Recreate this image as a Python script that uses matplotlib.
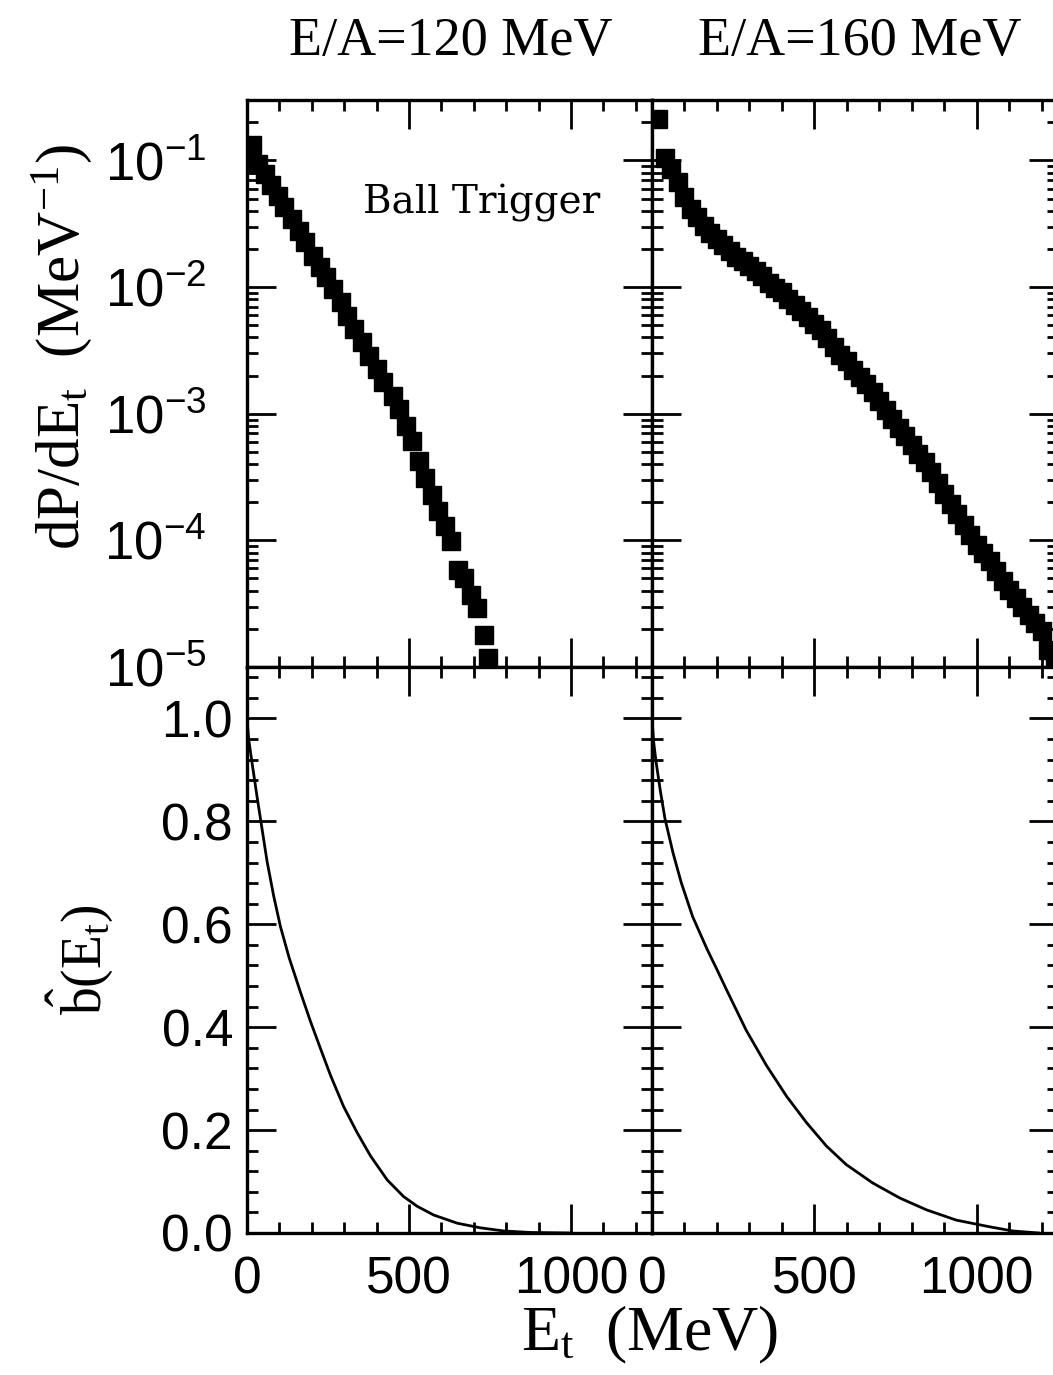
import numpy as np
import matplotlib
matplotlib.use('Agg')
import matplotlib.pyplot as plt
from matplotlib.ticker import MultipleLocator, LogLocator, FuncFormatter, NullFormatter

plt.rcParams['mathtext.fontset'] = 'custom'
plt.rcParams['mathtext.rm'] = 'Liberation Serif'
plt.rcParams['mathtext.sf'] = 'Liberation Sans'
plt.rcParams['mathtext.it'] = 'Liberation Serif:italic'

# dP/dEt, E/A = 120 MeV
et_120 = [15, 35, 55, 75, 95, 115, 140, 160, 180, 205, 225, 245, 265, 290, 310, 330,
          355, 375, 400, 420, 450, 470, 490, 510, 530, 550, 570, 590, 610, 630, 650,
          670, 690, 710, 730, 745]
dpde_120 = [0.1315, 0.0942, 0.0785, 0.0634, 0.0528, 0.0430, 0.0345, 0.0279, 0.0227,
            0.0177, 0.0144, 0.0120, 9.64e-3, 7.60e-3, 5.93e-3, 4.65e-3, 3.67e-3,
            2.86e-3, 2.24e-3, 1.77e-3, 1.38e-3, 1.09e-3, 8.0e-4, 6.08e-4, 4.22e-4,
            3.13e-4, 2.30e-4, 1.69e-4, 1.29e-4, 9.8e-5, 5.85e-5, 5.06e-5, 3.71e-5,
            2.92e-5, 1.79e-5, 1.17e-5]

# dP/dEt, E/A = 160 MeV
et_160 = [20, 40, 60, 80, 100, 120, 140, 160, 180, 200, 220, 240, 260, 280, 300, 320,
          340, 360, 380, 400, 420, 440, 460, 480, 500, 520, 540, 560, 580, 600, 620,
          640, 660, 680, 700, 720, 740, 760, 780, 800, 820, 840, 860, 880, 900, 920,
          940, 960, 980, 1000, 1020, 1040, 1060, 1080, 1100, 1120, 1140, 1160, 1180,
          1200, 1220, 1240]
dpde_160 = [0.214, 0.105, 0.0851, 0.0676, 0.0513, 0.0417, 0.0355, 0.0305, 0.0266,
            0.0240, 0.0216, 0.0193, 0.0174, 0.0160, 0.0146, 0.0133, 0.0123, 0.0108,
            9.89e-3, 9.12e-3, 8.04e-3, 7.16e-3, 6.53e-3, 5.79e-3, 5.13e-3, 4.57e-3,
            3.98e-3, 3.35e-3, 2.92e-3, 2.60e-3, 2.21e-3, 1.94e-3, 1.72e-3, 1.48e-3,
            1.26e-3, 1.07e-3, 9.12e-4, 7.76e-4, 6.68e-4, 5.62e-4, 4.79e-4, 4.12e-4,
            3.47e-4, 2.86e-4, 2.34e-4, 1.95e-4, 1.62e-4, 1.32e-4, 1.11e-4, 9.23e-5,
            7.94e-5, 6.92e-5, 5.69e-5, 4.79e-5, 4.07e-5, 3.51e-5, 2.95e-5, 2.57e-5,
            2.21e-5, 1.91e-5, 1.35e-5, 1.07e-5]

# reduced impact parameter b(Et)
bet_120 = [0, 5, 16, 31, 47, 62, 82, 103, 130, 165, 196, 227, 258, 298, 340, 381, 433,
           483, 525, 576, 649, 721, 792, 875, 1000]
bhat_120 = [1.0, 0.96, 0.912, 0.848, 0.783, 0.722, 0.656, 0.596, 0.535, 0.468, 0.411,
            0.358, 0.306, 0.246, 0.195, 0.150, 0.103, 0.071, 0.052, 0.035, 0.019,
            0.010, 0.004, 0.001, 0.0]
bet_160 = [0, 5, 12, 25, 40, 65, 90, 125, 170, 200, 230, 290, 352, 414, 475, 537, 598,
           680, 763, 845, 937, 1040, 1110, 1190]
bhat_160 = [1.0, 0.955, 0.918, 0.862, 0.805, 0.738, 0.681, 0.615, 0.551, 0.512, 0.472,
            0.394, 0.326, 0.266, 0.215, 0.169, 0.133, 0.097, 0.068, 0.045, 0.025, 0.012,
            0.004, 0.0]

W, H = 1053, 1375
fig = plt.figure(figsize=(W / 100, H / 100), dpi=100)


def box(x0, y0, x1, y1):
    return [x0 / W, 1 - y1 / H, (x1 - x0) / W, (y1 - y0) / H]


ax_tl = fig.add_axes(box(247, 100, 652, 667))
ax_tr = fig.add_axes(box(652, 100, 1058, 667))
ax_bl = fig.add_axes(box(247, 667, 652, 1233))
ax_br = fig.add_axes(box(652, 667, 1058, 1233))

tickfont = 'Liberation Sans'


def style(ax):
    for s in ax.spines.values():
        s.set_linewidth(2.4)
    ax.tick_params(which='both', direction='in', top=True, right=True, width=2.0)
    ax.tick_params(which='major', length=21)
    ax.tick_params(which='minor', length=8)
    ax.set_xlim(0, 1250)
    ax.xaxis.set_major_locator(MultipleLocator(500))
    ax.xaxis.set_minor_locator(MultipleLocator(100))


for ax in (ax_tl, ax_tr):
    style(ax)
    ax.set_yscale('log')
    ax.set_ylim(1e-5, 0.3)
    ax.yaxis.set_major_locator(LogLocator(base=10, numticks=10))
    ax.yaxis.set_minor_locator(LogLocator(base=10, subs=np.arange(2, 10), numticks=20))
    ax.yaxis.set_minor_formatter(NullFormatter())
    ax.tick_params(labelbottom=False)

for ax in (ax_bl, ax_br):
    style(ax)
    ax.set_ylim(0, 1.1)
    ax.yaxis.set_major_locator(MultipleLocator(0.2))
    ax.yaxis.set_minor_locator(MultipleLocator(0.04))

ax_tr.tick_params(labelleft=False)
ax_br.tick_params(labelleft=False)

ax_tl.yaxis.set_major_formatter(
    FuncFormatter(lambda v, p: r'$\mathsf{10^{%d}}$' % round(np.log10(v))))
ax_tl.tick_params(axis='y', labelsize=38, pad=29)

ax_bl.yaxis.set_major_formatter(FuncFormatter(lambda v, p: '%.1f' % v))
ax_bl.tick_params(axis='y', labelsize=37, pad=10)
for ax in (ax_bl, ax_br):
    ax.xaxis.set_major_formatter(FuncFormatter(lambda v, p: '%d' % v))
    ax.tick_params(axis='x', labelsize=37, pad=16)
for ax in (ax_tl, ax_bl, ax_br):
    for lab in ax.get_xticklabels() + ax.get_yticklabels():
        lab.set_family(tickfont)

# data
ax_tl.plot(et_120, dpde_120, 's', color='black', ms=12.5)
ax_tr.plot(et_160, dpde_160, 's', color='black', ms=12.5)
ax_bl.plot(bet_120, bhat_120, '-', color='black', lw=2.0)
ax_br.plot(bet_160, bhat_160, '-', color='black', lw=2.0)

ax_tl.text(0.579, 0.818, 'Ball Trigger', transform=ax_tl.transAxes,
           ha='center', va='center', family='DejaVu Serif', size=28)

fig.text(451 / W, 1 - 42 / H, 'E/A=120 MeV', ha='center', va='center',
         family='Liberation Serif', size=39)
fig.text(860 / W, 1 - 42 / H, 'E/A=160 MeV', ha='center', va='center',
         family='Liberation Serif', size=39)

fig.text(62 / W, 1 - 347 / H, r'$\mathrm{dP/dE_t\ \ (MeV^{-1})}$', rotation=90,
         ha='center', va='center', size=44)
fig.text(80 / W, 1 - 960 / H, r'$\hat{\mathrm{b}}(\mathrm{E_t})$', rotation=90,
         ha='center', va='center', size=40)
fig.text(650 / W, 1 - 1335 / H, r'$\mathrm{E_t\ \ (MeV)}$', ha='center', va='center',
         size=46)

fig.savefig('out.png', dpi=100)
